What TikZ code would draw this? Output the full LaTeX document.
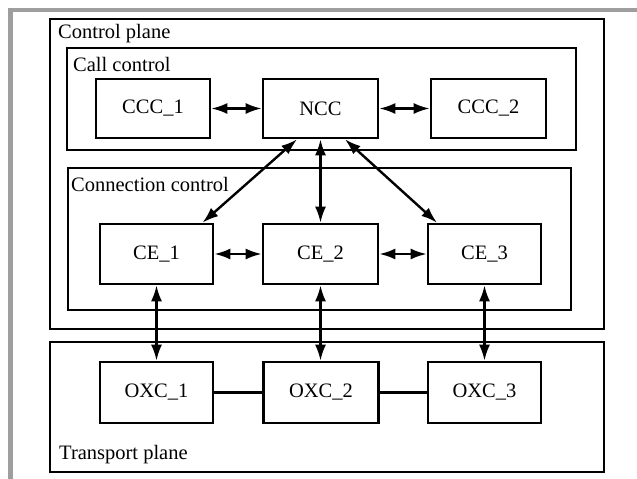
\documentclass[tikz,border=0pt]{standalone}
\usepackage{fontspec}
\setmainfont{Liberation Serif}
\usetikzlibrary{arrows.meta}
\begin{document}
\begin{tikzpicture}[x=1pt,y=-1pt,
  box/.style={draw, line width=2.6pt, rectangle, inner sep=0pt, font=\fontsize{20.5}{24}\selectfont},
  cont/.style={draw, line width=2.6pt, rectangle, inner sep=0pt},
  lbl/.style={anchor=west, inner sep=0pt, font=\fontsize{20.5}{24}\selectfont},
  biarrow/.style={line width=2.4pt, {Latex[length=16pt,width=11pt]}-{Latex[length=16pt,width=11pt]}},
  link/.style={line width=2.4pt}
]
\useasboundingbox (0,0) rectangle (637,479);
\draw[line width=4.5pt, color=black!38] (10.5,479) -- (10.5,10) -- (637,10);

% containers
\node[cont, minimum width=554pt, minimum height=310pt] (cp) at (327,174) {};
\node[cont, minimum width=509pt, minimum height=102pt] (cc) at (321.5,99) {};
\node[cont, minimum width=503pt, minimum height=142pt] (conn) at (319.5,239) {};
\node[cont, minimum width=554pt, minimum height=130pt] (tp) at (327,407) {};

\node[lbl] (cpl) at (58,34) {Control plane};
\node[lbl] (ccl) at (73,64) {Call control};
\node[lbl] (connl) at (71,184) {Connection control};
\node[lbl] (tpl) at (59,455) {Transport plane};

% call control
\node[box, minimum width=114pt, minimum height=59pt] (ccc1) at (153,108.5) {CCC\_1};
\node[box, minimum width=115pt, minimum height=59pt] (ncc) at (320.5,108.5) {NCC};
\node[box, minimum width=115pt, minimum height=59pt] (ccc2) at (488.5,108.5) {CCC\_2};

% connection control
\node[box, minimum width=113pt, minimum height=60pt] (ce1) at (156.5,254) {CE\_1};
\node[box, minimum width=115pt, minimum height=60pt] (ce2) at (320.5,254) {CE\_2};
\node[box, minimum width=113pt, minimum height=60pt] (ce3) at (484.5,254) {CE\_3};

% transport
\node[box, minimum width=113pt, minimum height=61pt] (oxc1) at (156.5,392.5) {OXC\_1};
\node[box, minimum width=115pt, minimum height=61pt] (oxc2) at (321,392.5) {OXC\_2};
\node[box, minimum width=113pt, minimum height=61pt] (oxc3) at (484.5,392.5) {OXC\_3};

% arrows
\draw[biarrow] (ccc1.east) -- (ncc.west);
\draw[biarrow] (ncc.east) -- (ccc2.west);
\draw[biarrow] (ce1.east) -- (ce2.west);
\draw[biarrow] (ce2.east) -- (ce3.west);
\draw[biarrow] ([xshift=-23.5pt]ncc.south) -- ([xshift=46pt]ce1.north);
\draw[biarrow] (ncc.south) -- (ce2.north);
\draw[biarrow] ([xshift=24.5pt]ncc.south) -- ([xshift=-47.5pt]ce3.north);
\draw[biarrow] (ce1.south) -- (oxc1.north);
\draw[biarrow] (ce2.south) -- (oxc2.north -| ce2.south);
\draw[biarrow] (ce3.south) -- (oxc3.north);
\draw[link] (oxc1.east) -- (oxc2.west);
\draw[link] (oxc2.east) -- (oxc3.west);
\end{tikzpicture}
\end{document}
